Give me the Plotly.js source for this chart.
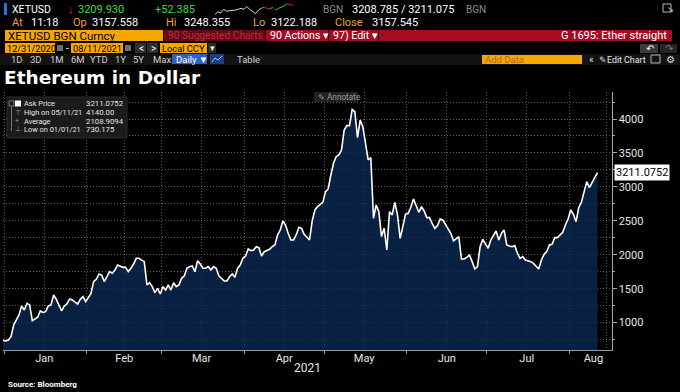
<!DOCTYPE html>
<html>
<head>
<meta charset="utf-8">
<script src="https://cdn.plot.ly/plotly-3.0.1.min.js"></script>
<style>html,body{margin:0;padding:0;background:#000;}#chart{width:680px;height:392px;}</style>
</head>
<body>
<div id="chart"></div>
<script>
// ---------- DATA ----------
const seriesStart = '2020-12-31';   // first daily observation
const askPrice = [
  737, 730, 744, 793, 965, 1038, 1112, 1245, 1186, 1284, 1260,
  1029, 1050, 1078, 1171, 1150, 1161, 1245, 1260, 1407, 1343,
  1250, 1171, 1245, 1274, 1348, 1333, 1300, 1274, 1343, 1382,
  1309, 1380, 1431, 1603, 1638, 1716, 1701, 1603, 1687, 1750,
  1726, 1775, 1849, 1830, 1814, 1814, 1750, 1800, 1863, 1947,
  1947, 1920, 1898, 1554, 1588, 1530, 1441, 1505, 1421, 1530,
  1480, 1554, 1480, 1588, 1530, 1554, 1652, 1687, 1800, 1824,
  1834, 1750, 1912, 1863, 1800, 1800, 1824, 1775, 1824, 1800,
  1687, 1652, 1613, 1613, 1677, 1716, 1667, 1800, 1849, 1947,
  1981, 2085, 2060, 2070, 2119, 2104, 1981, 2045, 2060, 2080,
  2119, 2143, 2291, 2364, 2497, 2438, 2315, 2217, 2217, 2291,
  2404, 2389, 2301, 2260, 2217, 2497, 2659, 2708, 2740, 2772,
  2929, 2969, 3175, 3347, 3445, 3470, 3543, 3838, 3902, 3902,
  4140, 4108, 3725, 3985, 3887, 3641, 3396, 3430, 2536, 2733,
  2635, 2267, 2389, 2070, 2635, 2586, 2772, 2586, 2242, 2414,
  2595, 2610, 2700, 2821, 2708, 2625, 2708, 2645, 2546, 2546,
  2463, 2389, 2428, 2527, 2512, 2450, 2389, 2315, 2203, 2232,
  2266, 1937, 1937, 1960, 1996, 1898, 1790, 1824, 2119, 2227,
  2168, 2094, 2217, 2290, 2350, 2217, 2315, 2364, 2144, 2130,
  2119, 2134, 2021, 1947, 1972, 1922, 1910, 1898, 1873, 1824,
  1790, 1922, 2006, 2045, 2144, 2153, 2252, 2252, 2291, 2330,
  2438, 2527, 2659, 2595, 2487, 2694, 2772, 2920, 3077, 2988,
  3067, 3126, 3211.0752
];
const lastValueText = '3211.0752';

const monthStarts = ['2021-01-01','2021-02-01','2021-03-01','2021-04-01','2021-05-01','2021-06-01','2021-07-01','2021-08-01'];
const midMonths   = ['2021-01-16','2021-02-15','2021-03-16','2021-04-16','2021-05-16','2021-06-16','2021-07-16','2021-08-15'];
const monthLabelDates = ['2021-01-16','2021-02-15','2021-03-16','2021-04-16','2021-05-16','2021-06-16','2021-07-16','2021-08-10'];
const monthNames = ['Jan','Feb','Mar','Apr','May','Jun','Jul','Aug'];

const legendLabels = ['Ask Price','High on 05/11/21','Average','Low on 01/01/21'];
const legendValues = ['3211.0752','4140.00','2108.9094','730.175'];

// intraday sparkline in the header
const sparkValues = [3140,3161,3152,3182,3167,3170,3167,3176,3182,3191,3182,3206,3182,3161,3146,3176,3191,3200,3191,3185,3200,3176,3191,3200,3212,3230,3221,3215];
const sparkColoredFrom = 16;

// ---------- build ----------
function dayString(i){
  const p = seriesStart.split('-').map(Number);
  const d = new Date(Date.UTC(p[0], p[1]-1, p[2]+i));
  return d.toISOString().slice(0,10) + ' 12:00';
}
const dates = askPrice.map((_, i) => dayString(i));

const W = 680, H = 392;
const X = p => p / W, Y = p => 1 - p / H;
const ORANGE = '#f7a600', OTXT = '#f0a030', RED = '#a20d22', GRID = '#5c5c5c';

const shapes = [];
const ann = [];
function box(x0, y0, x1, y1, fill, line){
  shapes.push({type:'rect', xref:'paper', yref:'paper', x0:X(x0), x1:X(x1), y0:Y(y1), y1:Y(y0),
    fillcolor: fill, line:{width: line ? 1 : 0, color: line || fill}, layer:'above'});
}
function txt(x, y, text, color, size, extra){
  ann.push(Object.assign({xref:'paper', yref:'paper', x:X(x), y:Y(y), text:text, showarrow:false,
    xanchor:'left', yanchor:'middle', borderpad:0,
    font:{color:color, size:size, family:'Roboto'}}, extra || {}));
}

// Row 5 band
box(0, 54, 680, 65, '#131313');

// Row 1
box(4, 3, 7, 15, '#2f6fe0');
txt(11, 9, 'XETUSD', '#ffffff', 10.5);
txt(67, 9, '↓', '#e53935', 11);
txt(77, 9, '3209.930', '#3ddc3d', 11);
txt(154, 9, '+52.385', '#3ddc3d', 11);
txt(322, 9, 'BGN', '#8c8c8c', 10);
txt(351, 9, '3208.785 / 3211.075', '#ffffff', 11);
txt(465, 9, 'BGN', '#8c8c8c', 10);
box(663, 4, 671, 12, 'rgba(0,0,0,0)', '#bbbbbb');
txt(666, 10, '↘', '#dddddd', 8);

// Row 2
[['At',11,'11:18',30],['Op',72,'3157.558',91],['Hi',165,'3248.355',183],['Lo',252,'3122.188',270],['Close',334,'3157.545',371]]
  .forEach(r => { txt(r[1], 22, r[0], OTXT, 11); txt(r[3], 22, r[2], '#ffffff', 11); });

// Row 3
box(5, 30, 163, 41, ORANGE);
txt(7, 35.5, 'XETUSD BGN Curncy', '#000000', 11.5);
box(164, 30, 265, 41, '#6a0913');
txt(167, 35.5, '90 Suggested Charts', '#b0303f', 10.2);
box(266, 30, 328, 41, RED);
txt(269, 35.5, '90 Actions ▾', '#ffffff', 10.6);
box(329, 30, 378, 41, RED);
txt(332, 35.5, '97) Edit ▾', '#ffffff', 10.6);
box(379, 30, 672, 41, RED);
txt(668, 35.5, 'G 1695: Ether straight', '#ffffff', 11, {xanchor:'right'});

// Row 4
box(5, 43, 55, 53, ORANGE);
txt(6, 48, '12/31/2020', '#000000', 9.2);
box(57, 45, 63, 51, '#6f6f6f');
txt(65, 48, '-', '#ffffff', 10);
box(71, 43, 123, 53, ORANGE);
txt(72, 48, '08/11/2021', '#000000', 9.2);
box(125, 45, 131, 51, '#6f6f6f');
box(135, 43, 146, 53, '#2e2e2e');
txt(138, 48, '<', '#ffffff', 10);
box(147, 43, 158, 53, '#2e2e2e');
txt(150, 48, '>', '#ffffff', 10);
box(160, 43, 207, 53, ORANGE);
txt(161, 48, 'Local CCY', '#000000', 9.3);
box(208, 43, 216, 53, '#2a2a2a');
txt(209, 48, '▾', '#ffffff', 9);
box(640, 44, 658, 53, '#3a3a3a');
txt(645, 48.5, '↶', '#ffffff', 10);
box(660, 44, 677, 53, '#242424');
txt(664, 48.5, '↷', '#777777', 10);

// Row 5
[['1D',10],['3D',29],['1M',49],['6M',70],['YTD',89],['1Y',114],['5Y',132],['Max',152]]
  .forEach(b => txt(b[1], 59.5, b[0], '#cfcfcf', 9.5));
box(172, 54, 207, 64, '#2b62c9');
txt(175, 59.5, 'Daily ▼', '#ffffff', 9.5);
box(210, 54, 224, 64, '#1d3f7a');
shapes.push({type:'path', xref:'paper', yref:'paper', layer:'above',
  path:`M ${X(212)} ${Y(62)} L ${X(215)} ${Y(58)} L ${X(218)} ${Y(60)} L ${X(222)} ${Y(56)}`,
  line:{color:'#9fc0ff', width:1}});
txt(236, 59.5, 'Table', '#cfcfcf', 9.5);
box(482, 55, 582, 64, ORANGE);
txt(484, 59.5, 'Add Data', '#b46a00', 9.5);
txt(588, 59.5, '«', '#dddddd', 10);
txt(598, 59.5, '✎', '#dddddd', 8.5);
txt(606, 59.5, 'Edit Chart', '#e6e6e6', 8.8);
box(651, 55, 660, 63, 'rgba(0,0,0,0)', '#bbbbbb');
txt(665, 59.5, '⚙', '#dddddd', 10);

// Legend box
box(7, 97, 127, 138, '#1b1b1b', '#2c2c2c');
box(9, 101, 14, 106, 'rgba(0,0,0,0)', '#777777');
box(15, 100.5, 21, 106.5, '#ffffff');
shapes.push({type:'line', xref:'paper', yref:'paper', layer:'above', x0:X(11.5), x1:X(11.5), y0:Y(107), y1:Y(131), line:{color:'#777', width:1}});
const legendY = [103.5, 112.5, 121, 129.5];
const legendMarks = ['', '⊤', '+', '⊥'];
legendLabels.forEach((l, i) => {
  if (legendMarks[i]) txt(14, legendY[i], legendMarks[i], '#999999', 7);
  txt(23, legendY[i], l, '#e6e6e6', 7.4);
  txt(85, legendY[i], legendValues[i], '#e6e6e6', 7.8);
});

// Annotate button
box(314, 92, 358, 102, '#222222');
txt(317, 97, '✎ Annotate', '#9a9a9a', 8.2);

// Last value tag
ann.push({xref:'paper', yref:'y', x:X(614), y:askPrice[askPrice.length-1], text:lastValueText,
  showarrow:false, xanchor:'left', yanchor:'middle', bgcolor:'#ffffff', borderpad:1,
  font:{color:'#000000', size:11, family:'Roboto'}});

// Axis year + source
txt(307, 368, '2021', '#e6e6e6', 12, {xanchor:'center'});
txt(7, 384, '<b>Source: Bloomberg</b>', '#ffffff', 8);

// ---------- traces ----------
const traces = [
  {type:'scatter', mode:'lines', x:dates, y:askPrice, xaxis:'x', yaxis:'y',
   line:{color:'#ffffff', width:1.6}, fill:'tozeroy', fillcolor:'rgba(10,40,82,0.8)', hoverinfo:'skip'},
  {type:'scatter', mode:'markers', x:[dates[0]], y:[askPrice[0]], xaxis:'x2', yaxis:'y',
   marker:{opacity:0}, hoverinfo:'skip'},
  {type:'scatter', mode:'lines', x:sparkValues.slice(0, sparkColoredFrom+1).map((_, i) => i),
   y:sparkValues.slice(0, sparkColoredFrom+1), xaxis:'x3', yaxis:'y3',
   line:{color:'#d8d8d8', width:1}, hoverinfo:'skip'}
];
for (let i = sparkColoredFrom; i < sparkValues.length - 1; i++) {
  traces.push({type:'scatter', mode:'lines', x:[i, i+1], y:[sparkValues[i], sparkValues[i+1]],
    xaxis:'x3', yaxis:'y3', hoverinfo:'skip',
    line:{color: sparkValues[i+1] >= sparkValues[i] ? '#2bd92b' : '#e0202a', width:1}});
}

const xRange = ['2020-12-31 12:00', '2021-08-16 19:00'];
const layout = {
  width:W, height:H, margin:{l:0, r:0, t:0, b:0},
  paper_bgcolor:'#000000', plot_bgcolor:'#000000',
  font:{family:'Roboto', color:'#e6e6e6'},
  showlegend:false, hovermode:false,
  title:{text:'<b>Ethereum in Dollar</b>', x:X(4), xanchor:'left', y:Y(77.5), yanchor:'middle',
         xref:'paper', yref:'paper', font:{family:'DejaVu Sans', size:18.5, color:'#ffffff'}},
  xaxis:{type:'date', domain:[X(3), X(611.5)], range:xRange, anchor:'y', fixedrange:true,
    tickmode:'array', tickvals:monthStarts, showticklabels:false,
    ticks:'outside', ticklen:3, tickcolor:'#9a9a9a',
    showline:true, linecolor:'#9a9a9a', linewidth:1, zeroline:false,
    showgrid:true, gridcolor:GRID, gridwidth:1, griddash:'1px,2px',
    minor:{tickmode:'array', tickvals:midMonths, ticks:'', showgrid:true, gridcolor:GRID, gridwidth:1, griddash:'1px,2px'}},
  xaxis2:{type:'date', overlaying:'x', anchor:'y', side:'bottom', range:xRange, fixedrange:true,
    tickmode:'array', tickvals:monthLabelDates, ticktext:monthNames, ticks:'',
    showgrid:false, showline:false, zeroline:false, ticklabelstandoff:0,
    tickfont:{size:11, color:'#e6e6e6', family:'Roboto'}},
  yaxis:{domain:[Y(350), Y(92)], range:[596, 4398], side:'right', anchor:'x', fixedrange:true,
    tickmode:'linear', tick0:0, dtick:500, ticks:'outside', ticklen:4, tickcolor:'#aaaaaa',
    showline:true, linecolor:'#aaaaaa', linewidth:1, zeroline:false,
    showgrid:true, gridcolor:GRID, gridwidth:1, griddash:'1px,2px',
    tickfont:{size:11, color:'#e6e6e6', family:'Roboto'},
    minor:{tick0:0, dtick:250, ticks:'outside', ticklen:2, tickcolor:'#aaaaaa',
           showgrid:true, gridcolor:GRID, gridwidth:1, griddash:'1px,2px'}},
  xaxis3:{domain:[X(215), X(293)], anchor:'y3', visible:false, fixedrange:true},
  yaxis3:{domain:[Y(15), Y(3)], anchor:'x3', visible:false, fixedrange:true},
  shapes:shapes, annotations:ann
};

Plotly.newPlot('chart', traces, layout, {staticPlot:true, displayModeBar:false});
</script>
</body>
</html>
